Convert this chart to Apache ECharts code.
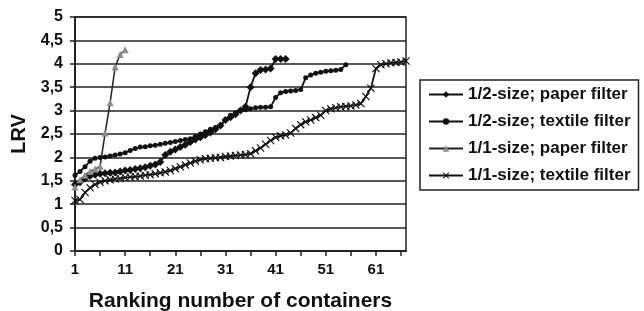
<!DOCTYPE html>
<html>
<head>
<meta charset="utf-8">
<script src="https://cdn.jsdelivr.net/npm/echarts@6/dist/echarts.min.js"></script>
<style>
    body { margin: 0; background: #fff; }
    #chart1 { width: 644px; height: 311px; }
</style>
</head>
<body>
<div id="chart1"></div>
<script>
// ranking numbers on the x axis
var ranks = [];
for (var i = 1; i <= 67; i++) ranks.push(String(i));

var seriesNames = ['1/2-size; paper filter', '1/2-size; textile filter', '1/1-size; paper filter', '1/1-size; textile filter'];

// LRV values
var halfPaper = [1.42, 1.47, 1.55, 1.6, 1.63, 1.65, 1.66, 1.67, 1.68, 1.7,
    1.72, 1.73, 1.75, 1.77, 1.79, 1.82, 1.85, 1.9, 2.05, 2.12,
    2.17, 2.22, 2.27, 2.33, 2.38, 2.43, 2.48, 2.53, 2.6, 2.68,
    2.8, 2.86, 2.92, 3.0, 3.08, 3.5, 3.8, 3.87, 3.88, 3.9,
    4.1, 4.1, 4.1];
var halfTextile = [1.62, 1.7, 1.8, 1.92, 1.98, 2.0, 2.01, 2.03, 2.05, 2.07,
    2.1, 2.15, 2.19, 2.22, 2.23, 2.25, 2.26, 2.28, 2.3, 2.32,
    2.34, 2.36, 2.38, 2.4, 2.45, 2.5, 2.55, 2.6, 2.64, 2.68,
    2.8, 2.9, 2.95, 3.0, 3.02, 3.04, 3.06, 3.07, 3.07, 3.08,
    3.28, 3.38, 3.41, 3.42, 3.43, 3.45, 3.7, 3.76, 3.8, 3.82,
    3.84, 3.85, 3.86, 3.88, 3.98];
var fullPaper = [1.37, 1.52, 1.62, 1.7, 1.75, 1.81, 2.52, 3.17, 3.93, 4.2, 4.3];
var fullTextile = [1.08, 1.1, 1.25, 1.35, 1.42, 1.47, 1.5, 1.52, 1.54, 1.55,
    1.57, 1.58, 1.59, 1.6, 1.62, 1.63, 1.65, 1.67, 1.69, 1.72,
    1.76, 1.8, 1.84, 1.88, 1.92, 1.95, 1.97, 1.98, 1.99, 2.0,
    2.02, 2.03, 2.04, 2.05, 2.06, 2.08, 2.14, 2.2, 2.28, 2.36,
    2.43, 2.46, 2.48, 2.52, 2.62, 2.7, 2.76, 2.8, 2.85, 2.9,
    3.0, 3.04, 3.06, 3.08, 3.09, 3.1, 3.12, 3.15, 3.3, 3.48,
    3.9, 3.98, 4.0, 4.02, 4.03, 4.04, 4.06];

var crossSymbol = 'path://M0,1L1,0L5,4L9,0L10,1L6,5L10,9L9,10L5,6L1,10L0,9L4,5Z';
var font = 'Liberation Sans, Arial, sans-serif';

var myChart1 = echarts.init(document.getElementById('chart1'));

var option1 = {
    animation: false,
    textStyle: { fontFamily: font },
    grid: {
        left: 75, right: 238, top: 17, bottom: 60,
        outerBoundsMode: 'none',
        containLabel: false,
        show: true,
        borderColor: '#222',
        borderWidth: 1.5
    },
    legend: {
        orient: 'vertical',
        left: 420,
        top: 80,
        padding: [6, 8, 6, 8],
        itemWidth: 34,
        itemHeight: 8,
        itemGap: 10,
        borderColor: '#222',
        borderWidth: 1.5,
        textStyle: { fontFamily: font, fontSize: 17, fontWeight: 'bold', color: '#111', lineHeight: 17 },
        data: seriesNames
    },
    xAxis: {
        type: 'category',
        boundaryGap: false,
        data: ranks,
        name: 'Ranking number of containers',
        nameLocation: 'middle',
        nameGap: 40,
        nameTextStyle: { fontFamily: font, fontSize: 21, fontWeight: 'bold', color: '#111' },
        axisLine: { lineStyle: { color: '#222', width: 2 } },
        axisTick: { interval: 4, length: 5, lineStyle: { color: '#222', width: 1.5 } },
        axisLabel: { interval: 9, margin: 11, fontSize: 15, fontWeight: 'bold', color: '#111' },
        splitLine: { show: false }
    },
    yAxis: {
        type: 'value',
        min: 0,
        max: 5,
        interval: 0.5,
        name: 'LRV',
        nameLocation: 'middle',
        nameGap: 46,
        nameTextStyle: { fontFamily: font, fontSize: 20, fontWeight: 'bold', color: '#111' },
        axisLine: { show: true, lineStyle: { color: '#222', width: 2 } },
        axisTick: { show: true, length: 5, lineStyle: { color: '#222', width: 1.5 } },
        axisLabel: {
            margin: 12, fontSize: 16, fontWeight: 'bold', color: '#111',
            formatter: function (v) { return String(v).replace('.', ','); }
        },
        splitLine: { lineStyle: { color: '#222', width: 1.5 } }
    },
    series: [
        {
            name: seriesNames[0],
            type: 'line',
            data: halfPaper,
            showAllSymbol: true,
            symbol: 'diamond',
            symbolSize: 8,
            itemStyle: { color: '#111' },
            lineStyle: { color: '#111', width: 1.8 }
        },
        {
            name: seriesNames[1],
            type: 'line',
            data: halfTextile,
            showAllSymbol: true,
            symbol: 'circle',
            symbolSize: 5,
            itemStyle: { color: '#111' },
            lineStyle: { color: '#111', width: 1.8 }
        },
        {
            name: seriesNames[2],
            type: 'line',
            data: fullPaper,
            showAllSymbol: true,
            symbol: 'triangle',
            symbolSize: 7,
            itemStyle: { color: '#8c8c8c' },
            lineStyle: { color: '#222', width: 1.5 }
        },
        {
            name: seriesNames[3],
            type: 'line',
            data: fullTextile,
            showAllSymbol: true,
            symbol: crossSymbol,
            symbolSize: 8,
            itemStyle: { color: '#111' },
            lineStyle: { color: '#111', width: 1.8 }
        }
    ]
};
myChart1.setOption(option1);
</script>
</body>
</html>
